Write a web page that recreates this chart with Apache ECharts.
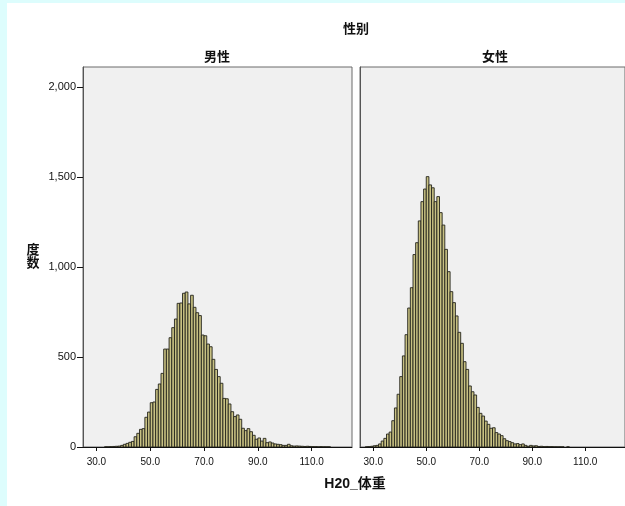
<!DOCTYPE html>
<html>
<head>
<meta charset="utf-8">
<script src="https://cdn.jsdelivr.net/npm/echarts@6/dist/echarts.min.js"></script>
<style>
  html, body { margin: 0; padding: 0; background: #ddfdfd; }
  #paper { position: absolute; left: 7px; top: 3px; width: 618px; height: 503px; background: #ffffff; }
  #chart { position: absolute; left: 0; top: 0; width: 625px; height: 506px; }
</style>
</head>
<body>
<div id="paper"></div>
<div id="chart"></div>
<script>
// ---- data (histogram of H20_体重, 1 kg bins starting at binStart) ----
const binStart = 25;
const binWidth = 1;
const maleCounts = [
  0, 0, 0, 0, 0, 0, 0, 0, 1, 1,                // 25-34
  2, 3, 4, 5, 9, 15, 20, 26, 31, 57,           // 35-44
  76, 98, 102, 165, 194, 246, 250, 320, 350, 409, // 45-54
  544, 544, 607, 663, 711, 798, 800, 854, 861, 795, // 55-64
  843, 776, 746, 730, 622, 618, 572, 557, 487, 431, // 65-74
  391, 354, 270, 268, 239, 196, 169, 178, 154, 104, // 75-84
  91, 102, 85, 65, 43, 50, 33, 48, 24, 28,      // 85-94
  22, 17, 15, 13, 9, 9, 15, 7, 5, 6,            // 95-104
  5, 4, 3, 4, 3, 2, 2, 1, 2, 1,                 // 105-114
  1, 1, 0, 0, 0, 0, 0, 0, 0, 0                  // 115-124
];
const femaleCounts = [
  0, 0, 1, 2, 4, 7, 9, 17, 33, 48,             // 25-34
  72, 83, 146, 217, 293, 391, 506, 624, 772, 885, // 35-44
  1069, 1135, 1256, 1363, 1433, 1502, 1456, 1440, 1363, 1391, // 45-54
  1302, 1233, 1098, 974, 863, 802, 728, 637, 576, 474, // 55-64
  431, 339, 307, 289, 220, 187, 172, 144, 126, 104, // 65-74
  107, 80, 72, 63, 46, 35, 30, 24, 17, 19,      // 75-84
  13, 17, 9, 4, 9, 6, 7, 3, 4, 2,              // 85-94
  3, 2, 2, 1, 1, 1, 1, 0, 1, 0,                // 95-104
  0, 0, 0, 0, 0, 0, 0, 0, 0, 0,                // 105-114
  0, 0, 0, 0, 0, 0, 0, 0, 0, 0                 // 115-124
];
const panelNames = ['男性', '女性'];
const xTicks = [30, 50, 70, 90, 110];
const yTicks = [0, 500, 1000, 1500, 2000];
const xMin = 25, xMax = 125, yMax = 2111;

const LATIN = "'Liberation Sans', Arial, sans-serif";
const CJK = "'Liberation Sans', 'Noto Sans CJK SC', sans-serif";

function toData(counts) {
  return counts.map((c, i) => [binStart + i * binWidth, c]);
}

function renderBar(params, api) {
  const k = api.value(0), c = api.value(1);
  if (!c) return null;
  const p0 = api.coord([k, c]);
  const p1 = api.coord([k + binWidth, 0]);
  return {
    type: 'rect',
    shape: { x: p0[0], y: p0[1], width: p1[0] - p0[0], height: p1[1] - p0[1] },
    style: { fill: '#c8c183', stroke: '#24241c', lineWidth: 0.9 }
  };
}

const grids = [
  { left: 83, top: 67, width: 269, height: 380 },
  { left: 360, top: 67, width: 269, height: 380 }
].map(g => Object.assign(g, {
  show: true, backgroundColor: '#f0f0f0', borderColor: '#6a6a6a', borderWidth: 1
}));

const xAxes = [0, 1].map(i => ({
  gridIndex: i, type: 'value', min: xMin, max: xMax,
  axisLine: { show: true, onZero: false, lineStyle: { color: '#111', width: 1 } },
  axisTick: { show: true, customValues: xTicks, length: 4, lineStyle: { color: '#111' } },
  axisLabel: {
    customValues: xTicks, formatter: v => v.toFixed(1),
    color: '#111', fontSize: 10, fontFamily: LATIN, margin: 10
  },
  splitLine: { show: false }
}));

const yAxes = [0, 1].map(i => ({
  gridIndex: i, type: 'value', min: 0, max: yMax,
  axisLine: { show: true, lineStyle: { color: '#555', width: 1 } },
  axisTick: { show: i === 0, customValues: yTicks, length: 6, lineStyle: { color: '#111' } },
  axisLabel: {
    show: i === 0, customValues: yTicks,
    formatter: v => v.toLocaleString('en-US'),
    color: '#111', fontSize: 11, fontFamily: LATIN, margin: 7
  },
  splitLine: { show: false }
}));

const series = [maleCounts, femaleCounts].map((counts, i) => ({
  type: 'custom', xAxisIndex: i, yAxisIndex: i,
  renderItem: renderBar, encode: { x: 0, y: 1 },
  clip: true, data: toData(counts), silent: true
}));

const textStyleBold = (size) => ({ fontSize: size, fontWeight: 'bold', fontFamily: CJK, fill: '#111', align: 'center', verticalAlign: 'middle' });

const option = {
  backgroundColor: 'transparent',
  animation: false,
  grid: grids,
  xAxis: xAxes,
  yAxis: yAxes,
  series: series,
  graphic: [
    { type: 'text', x: 356, y: 29, style: Object.assign({ text: '性别' }, textStyleBold(13)) },
    { type: 'text', x: 217, y: 57, style: Object.assign({ text: panelNames[0] }, textStyleBold(13)) },
    { type: 'text', x: 495, y: 57, style: Object.assign({ text: panelNames[1] }, textStyleBold(13)) },
    { type: 'text', x: 33, y: 257, style: Object.assign({ text: '度\n数', lineHeight: 13 }, textStyleBold(13)) },
    { type: 'text', x: 355, y: 484, style: Object.assign({ text: 'H20_体重' }, textStyleBold(14)) }
  ]
};

const chart = echarts.init(document.getElementById('chart'), null, { renderer: 'canvas' });
chart.setOption(option);
</script>
</body>
</html>
